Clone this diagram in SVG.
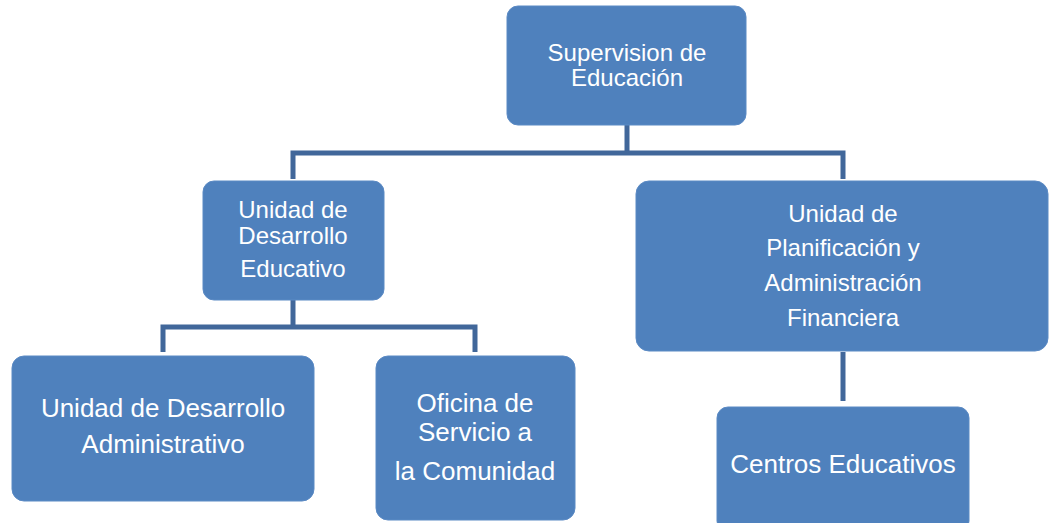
<svg xmlns="http://www.w3.org/2000/svg" width="1049" height="523" viewBox="0 0 1049 523">
<style>
.box{fill:#4F81BD;stroke:#5B8AC4;stroke-width:1}
.t{fill:#FFFFFF;font-family:"Liberation Sans",Arial,sans-serif;text-anchor:middle}
.m{font-size:24px}
.b{font-size:26px}
.c{fill:none;stroke:#41679A;stroke-width:5;stroke-linecap:butt;stroke-linejoin:miter}
</style>
<rect width="1049" height="523" fill="#FFFFFF"/>
<g id="connectors">
<path class="c" d="M627 125 V153"/>
<path class="c" d="M293 179 V153 H843 V179"/>
<path class="c" d="M293 300 V327"/>
<path class="c" d="M163 352 V327 H475 V352"/>
<path class="c" d="M843 352 V401"/>
</g>
<g id="supervision">
<rect class="box" x="507" y="6" width="239" height="119" rx="11"/>
<text class="t m" x="627" y="61">Supervision de</text>
<text class="t m" x="627" y="86">Educación</text>
</g>
<g id="desarrollo-educativo">
<rect class="box" x="203" y="181" width="181" height="119" rx="11"/>
<text class="t m" x="293" y="218">Unidad de</text>
<text class="t m" x="293" y="244">Desarrollo</text>
<text class="t m" x="293" y="277">Educativo</text>
</g>
<g id="planificacion">
<rect class="box" x="636" y="181" width="412" height="170" rx="13"/>
<text class="t m" x="843" y="222">Unidad de</text>
<text class="t m" x="843" y="256">Planificación y</text>
<text class="t m" x="843" y="291">Administración</text>
<text class="t m" x="843" y="326">Financiera</text>
</g>
<g id="desarrollo-administrativo">
<rect class="box" x="12" y="356" width="302" height="145" rx="12"/>
<text class="t b" x="163" y="417">Unidad de Desarrollo</text>
<text class="t b" x="163" y="453">Administrativo</text>
</g>
<g id="oficina-servicio">
<rect class="box" x="376" y="356" width="199" height="164" rx="12"/>
<text class="t b" x="475" y="412">Oficina de</text>
<text class="t b" x="475" y="441">Servicio a</text>
<text class="t b" x="475" y="480">la Comunidad</text>
</g>
<g id="centros-educativos">
<rect class="box" x="717" y="407" width="252" height="125" rx="11"/>
<text class="t b" x="843" y="473">Centros Educativos</text>
</g>
</svg>
